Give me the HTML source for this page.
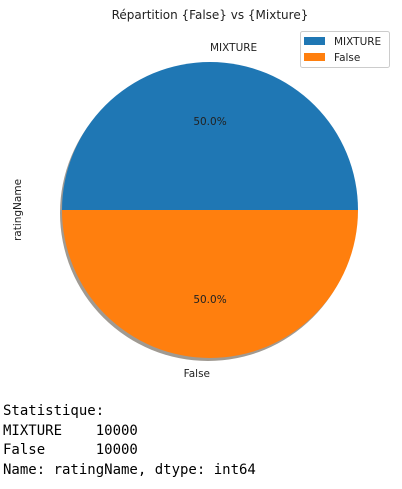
<!DOCTYPE html>
<html><head><meta charset="utf-8">
<style>
body{margin:0;background:#fff;width:402px;height:489px;overflow:hidden;position:relative}
svg{position:absolute;left:0;top:0}
#stats{position:absolute;left:3px;top:402px;font-family:"DejaVu Sans Mono","Liberation Mono",monospace;font-size:14px;line-height:19.6px;white-space:pre;color:#000}
</style></head><body>
<svg width="402" height="390" font-family="DejaVu Sans, Liberation Sans, sans-serif">
<text x="210" y="19" text-anchor="middle" font-size="12" fill="#222">Répartition {False} vs {Mixture}</text>
<text x="21" y="210" text-anchor="middle" font-size="10.5" fill="#222" transform="rotate(-90 21 210)">ratingName</text>
<g id="slices"></g>
<g>
<rect x="300.5" y="31.5" width="89" height="36" rx="2" fill="#fff" stroke="#ccc"/>
<rect x="304" y="37" width="21" height="8" fill="#1f77b4"/>
<text x="334" y="45" font-size="10.5" fill="#222">MIXTURE</text>
<rect x="304" y="53" width="21" height="8" fill="#ff7f0e"/>
<text x="334" y="61" font-size="10.5" fill="#222">False</text>
</g>
</svg>
<div id="stats">Statistique:
MIXTURE    10000
False      10000
Name: ratingName, dtype: int64</div>
<script>
const categories=["MIXTURE","False"];
const values=[10000,10000];
const colors=["#1f77b4","#ff7f0e"];
const cx=210,cy=210,r=148;
const g=document.getElementById('slices');
const NS='http://www.w3.org/2000/svg';
const total=values.reduce((a,b)=>a+b,0);
const sh=document.createElementNS(NS,'circle');
sh.setAttribute('cx',cx-2);sh.setAttribute('cy',cy+3);sh.setAttribute('r',r);sh.setAttribute('fill','#a09a92');


g.appendChild(sh);
let a0=0;
values.forEach((v,i)=>{
  const a1=a0+v/total*2*Math.PI;
  const x0=cx+r*Math.cos(a0),y0=cy-r*Math.sin(a0),x1=cx+r*Math.cos(a1),y1=cy-r*Math.sin(a1);
  const large=(a1-a0)>Math.PI?1:0;
  const p=document.createElementNS(NS,'path');
  p.setAttribute('d',`M${cx},${cy}L${x0},${y0}A${r},${r} 0 ${large} 0 ${x1},${y1}Z`);
  p.setAttribute('fill',colors[i]);
  
  
  g.appendChild(p);
  const am=(a0+a1)/2;
  const t=document.createElementNS(NS,'text');
  t.setAttribute('x',cx+r*0.6*Math.cos(am));t.setAttribute('y',cy-r*0.6*Math.sin(am)+4);
  t.setAttribute('text-anchor','middle');t.setAttribute('font-size','10.5');t.setAttribute('fill','#222');
  t.textContent=(v/total*100).toFixed(1)+'%';
  
  
  g.appendChild(t);
  const l=document.createElementNS(NS,'text');
  const c=Math.cos(am);
  l.setAttribute('x',cx+r*1.1*c);l.setAttribute('y',cy-r*1.1*Math.sin(am)+4);
  l.setAttribute('text-anchor',c>=0?'start':'end');l.setAttribute('font-size','10.5');l.setAttribute('fill','#222');
  l.textContent=categories[i];
  
  
  g.appendChild(l);
  a0=a1;
});
</script>
</body></html>
